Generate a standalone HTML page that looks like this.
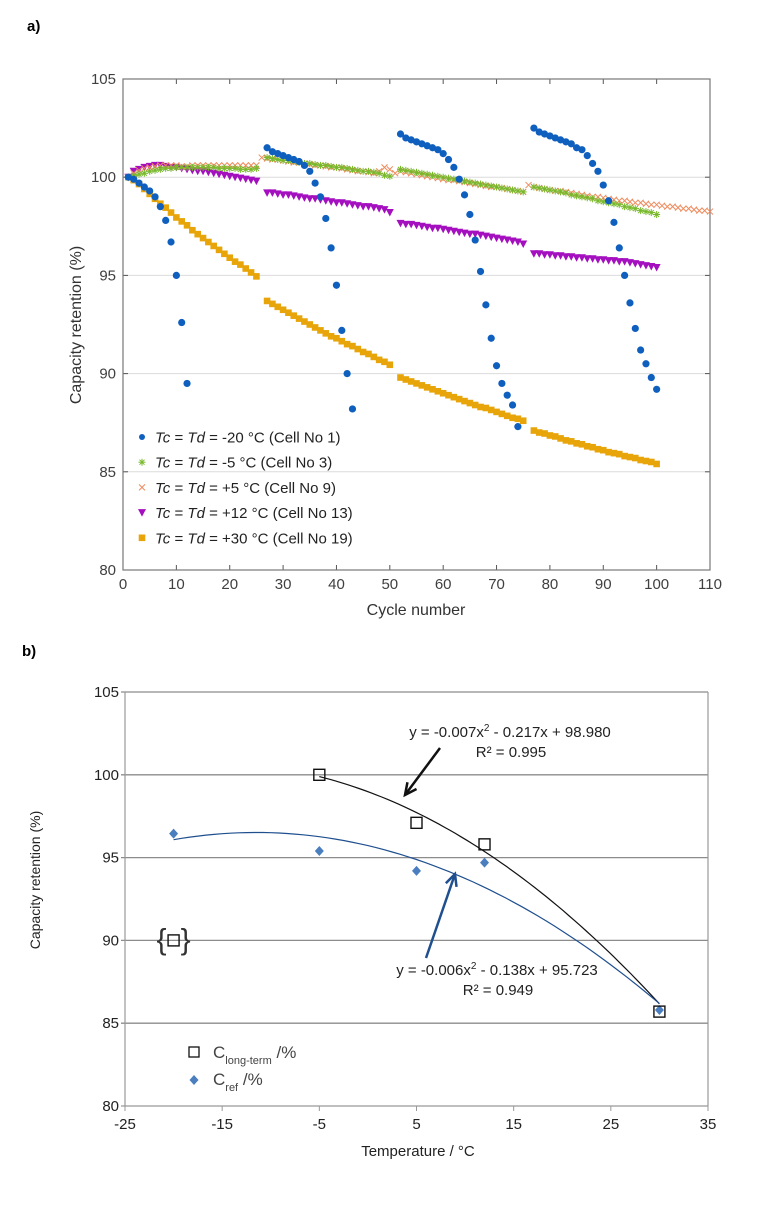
<!DOCTYPE html>
<html><head><meta charset="utf-8"><style>
html,body{margin:0;padding:0;background:#fff;}
body{width:759px;height:1200px;overflow:hidden;font-family:"Liberation Sans",sans-serif;}
svg text{font-family:"Liberation Sans",sans-serif;}
</style></head><body>
<svg id="root" width="759" height="1200" viewBox="0 0 759 1200" xmlns="http://www.w3.org/2000/svg">
<text x="27" y="31" font-size="15" font-weight="bold">a)</text>
<text x="22" y="656" font-size="15" font-weight="bold">b)</text>
<g id="chartA"></g>
<g id="chartB"></g>
</svg>
<script>
// ---------- Chart A data ----------
const aXTicks = [0,10,20,30,40,50,60,70,80,90,100,110];
const aYTicks = [80,85,90,95,100,105];
const blueStarts = [1,27,52,77];
const blueVals = [
 [100,99.9,99.7,99.5,99.3,99.0,98.5,97.8,96.7,95.0,92.6,89.5],
 [101.5,101.3,101.2,101.1,101.0,100.9,100.8,100.6,100.3,99.7,99.0,97.9,96.4,94.5,92.2,90.0,88.2],
 [102.2,102.0,101.9,101.8,101.7,101.6,101.5,101.4,101.2,100.9,100.5,99.9,99.1,98.1,96.8,95.2,93.5,91.8,90.4,89.5,88.9,88.4,87.3],
 [102.5,102.3,102.2,102.1,102.0,101.9,101.8,101.7,101.5,101.4,101.1,100.7,100.3,99.6,98.8,97.7,96.4,95.0,93.6,92.3,91.2,90.5,89.8,89.2]
];
const greenStarts = [1,27,52,77];
const greenVals = [
 [100,100.1,100.15,100.2,100.3,100.35,100.4,100.45,100.45,100.5,100.5,100.5,100.5,100.5,100.5,100.5,100.5,100.45,100.45,100.45,100.45,100.4,100.4,100.4,100.45],
 [101.0,100.95,100.9,100.85,100.85,100.8,100.75,100.7,100.7,100.65,100.6,100.6,100.55,100.5,100.5,100.45,100.4,100.35,100.3,100.3,100.25,100.2,100.1,100.05],
 [100.4,100.35,100.3,100.25,100.2,100.15,100.1,100.05,100.0,99.95,99.9,99.85,99.8,99.75,99.7,99.65,99.6,99.55,99.5,99.45,99.4,99.35,99.3,99.25],
 [99.5,99.45,99.4,99.35,99.3,99.25,99.2,99.1,99.05,99.0,98.95,98.9,98.8,98.75,98.7,98.65,98.6,98.5,98.45,98.4,98.3,98.25,98.2,98.1]
];
const orangeStarts = [1,26,51,76];
const orangeVals = [
 [100,100.2,100.35,100.45,100.5,100.55,100.6,100.6,100.6,100.6,100.55,100.55,100.6,100.6,100.6,100.6,100.6,100.6,100.6,100.6,100.6,100.6,100.6,100.6,100.6],
 [101.0,100.95,100.9,100.9,100.85,100.8,100.75,100.75,100.7,100.65,100.6,100.6,100.55,100.5,100.5,100.45,100.4,100.35,100.3,100.3,100.25,100.2,100.3,100.5,100.4],
 [100.2,100.3,100.25,100.2,100.15,100.1,100.05,100.0,99.95,99.9,99.85,99.85,99.8,99.75,99.7,99.65,99.6,99.55,99.5,99.5,99.45,99.4,99.35,99.3,99.25],
 [99.6,99.5,99.45,99.4,99.35,99.3,99.3,99.25,99.2,99.15,99.1,99.05,99.0,99.0,98.95,98.9,98.85,98.8,98.8,98.75,98.7,98.7,98.65,98.6,98.6,98.55,98.5,98.5,98.45,98.4,98.4,98.35,98.3,98.3,98.25]
];
const purpleStarts = [1,27,52,77];
const purpleVals = [
 [100,100.3,100.4,100.5,100.55,100.6,100.6,100.55,100.5,100.5,100.45,100.4,100.35,100.3,100.3,100.25,100.2,100.15,100.1,100.05,100.0,99.95,99.9,99.85,99.8],
 [99.2,99.2,99.15,99.1,99.1,99.05,99.0,98.95,98.9,98.9,98.85,98.8,98.75,98.7,98.7,98.65,98.6,98.55,98.5,98.5,98.45,98.4,98.35,98.2],
 [97.65,97.6,97.6,97.55,97.5,97.45,97.4,97.4,97.35,97.3,97.25,97.2,97.15,97.1,97.1,97.05,97.0,96.95,96.9,96.85,96.8,96.75,96.7,96.6],
 [96.1,96.1,96.05,96.05,96.0,96.0,95.95,95.95,95.9,95.9,95.85,95.85,95.8,95.8,95.75,95.75,95.7,95.7,95.65,95.6,95.55,95.5,95.45,95.4]
];
const yellowStarts = [1,27,52,77];
const yellowVals = [
 [100,99.85,99.65,99.4,99.15,98.9,98.65,98.45,98.2,97.95,97.75,97.55,97.3,97.1,96.9,96.7,96.5,96.3,96.1,95.9,95.7,95.55,95.35,95.15,94.95],
 [93.7,93.55,93.4,93.25,93.1,92.95,92.8,92.65,92.5,92.35,92.2,92.05,91.9,91.8,91.65,91.5,91.4,91.25,91.1,91.0,90.85,90.7,90.6,90.45],
 [89.8,89.7,89.6,89.5,89.4,89.3,89.2,89.1,89.0,88.9,88.8,88.7,88.6,88.5,88.4,88.3,88.25,88.15,88.05,87.95,87.85,87.75,87.7,87.6],
 [87.1,87.0,86.95,86.85,86.8,86.7,86.6,86.55,86.45,86.4,86.3,86.25,86.15,86.1,86.0,85.95,85.9,85.8,85.75,85.7,85.6,85.55,85.5,85.4]
];
const aLegend = ["-20 °C (Cell No 1)","-5 °C (Cell No 3)","+5 °C (Cell No 9)","+12 °C (Cell No 13)","+30 °C (Cell No 19)"];

// ---------- Chart B data ----------
const bXTicks = [-25,-15,-5,5,15,25,35];
const bYTicks = [80,85,90,95,100,105];
const longTemps = [-5,5,12,30];
const longVals = [100.0,97.1,95.8,85.7];
const outlierTemp = [-20];
const outlierVal = [90.0];
const refTemps = [-20,-5,5,12,30];
const refVals = [96.45,95.4,94.2,94.7,85.8];
const fitLong = [-0.007,-0.217,98.980];
const fitRef = [-0.006,-0.138,95.723];

const NS="http://www.w3.org/2000/svg";
function mk(parent,tag,attrs,text){const e=document.createElementNS(NS,tag);for(const k in attrs)e.setAttribute(k,attrs[k]);if(text!==undefined)e.textContent=text;parent.appendChild(e);return e;}

// ===== Chart A =====
const A=document.getElementById('chartA');
const ax0=123,ax1=710,ay0=570,ay1=79;
const axX=v=>ax0+(v-0)/110*(ax1-ax0);
const axY=v=>ay0-(v-80)/25*(ay0-ay1);
aYTicks.forEach(t=>{
  if(t>80&&t<105){const g=mk(A,'line',{x1:ax0,x2:ax1,y1:axY(t),y2:axY(t),stroke:'#dcdcdc','stroke-width':1});
  
  }
  const tx=mk(A,'text',{x:ax0-7,y:axY(t)+5,'font-size':15,'text-anchor':'end',fill:'#404040'},String(t));
  
  
  mk(A,'line',{x1:ax1-5,x2:ax1,y1:axY(t),y2:axY(t),stroke:'#555'});
  mk(A,'line',{x1:ax0,x2:ax0+5,y1:axY(t),y2:axY(t),stroke:'#555'});
});
aXTicks.forEach(t=>{
  const tx=mk(A,'text',{x:axX(t),y:ay0+19,'font-size':15,'text-anchor':'middle',fill:'#404040'},String(t));
  
  
  mk(A,'line',{x1:axX(t),x2:axX(t),y1:ay0,y2:ay0-5,stroke:'#555'});
  mk(A,'line',{x1:axX(t),x2:axX(t),y1:ay1,y2:ay1+5,stroke:'#555'});
});
const frame=mk(A,'rect',{x:ax0,y:ay1,width:ax1-ax0,height:ay0-ay1,fill:'none',stroke:'#777','stroke-width':1.2});


const xt=mk(A,'text',{x:416,y:615,'font-size':16,'text-anchor':'middle',fill:'#333'},'Cycle number');


const yt=mk(A,'text',{x:0,y:0,'font-size':16,'text-anchor':'middle',fill:'#333',transform:'translate(81,325) rotate(-90)'},'Capacity retention (%)');



function marker(g,type,x,y){
  if(type==='dot')return mk(g,'circle',{cx:x,cy:y,r:3.6,fill:'#0f5fbf'});
  if(type==='star'){const s=mk(g,'g',{stroke:'#77b82a','stroke-width':1});
    mk(s,'line',{x1:x-3.5,x2:x+3.5,y1:y,y2:y});mk(s,'line',{x1:x,x2:x,y1:y-3.5,y2:y+3.5});
    mk(s,'line',{x1:x-2.5,x2:x+2.5,y1:y-2.5,y2:y+2.5});mk(s,'line',{x1:x-2.5,x2:x+2.5,y1:y+2.5,y2:y-2.5});return s;}
  if(type==='x'){const s=mk(g,'g',{stroke:'#ef8a5c','stroke-width':1});
    mk(s,'line',{x1:x-3,x2:x+3,y1:y-3,y2:y+3});mk(s,'line',{x1:x-3,x2:x+3,y1:y+3,y2:y-3});return s;}
  if(type==='tri')return mk(g,'polygon',{points:`${x-4},${y-3.5} ${x+4},${y-3.5} ${x},${y+4}`,fill:'#a40fbf'});
  if(type==='sq')return mk(g,'rect',{x:x-3.3,y:y-3.3,width:6.6,height:6.6,fill:'#e8a50a'});
}
function series(name,type,starts,vals){
  const g=mk(A,'g',{});
  
  
  vals.forEach((seg,si)=>seg.forEach((v,i)=>{
    const m=marker(g,type,axX(starts[si]+i),axY(v));
    
    
  }));
}
series('series-plus30','sq',yellowStarts,yellowVals);
series('series-plus12','tri',purpleStarts,purpleVals);
series('series-plus5','x',orangeStarts,orangeVals);
series('series-minus5','star',greenStarts,greenVals);
series('series-minus20','dot',blueStarts,blueVals);

const legTypes=['dot','star','x','tri','sq'];
aLegend.forEach((lbl,i)=>{
  const y=437+i*25.2;
  const g=mk(A,'g',{});
  
  
  if(legTypes[i]==='dot')mk(g,'circle',{cx:142,cy:y,r:3,fill:'#0f5fbf'});else marker(g,legTypes[i],142,y);
  const t=mk(g,'text',{x:155,y:y+5.5,'font-size':15,fill:'#222'});
  mk(t,'tspan',{'font-style':'italic'},'Tc');
  mk(t,'tspan',{},' = ');
  mk(t,'tspan',{'font-style':'italic'},'Td');
  mk(t,'tspan',{},' = '+lbl);
});

// ===== Chart B =====
const B=document.getElementById('chartB');
const bx0=125,bx1=708,by0=1106,by1=692;
const bX=v=>bx0+(v+25)/60*(bx1-bx0);
const bY=v=>by0-(v-80)/25*(by0-by1);
bYTicks.forEach(t=>{
  const l=mk(B,'line',{x1:bx0-4,x2:bx1,y1:bY(t),y2:bY(t),stroke:t===80?'#999':'#8c8c8c','stroke-width':1.3});
  
  
  const tx=mk(B,'text',{x:bx0-6,y:bY(t)+5,'font-size':15,'text-anchor':'end',fill:'#222'},String(t));
  
  
});
mk(B,'line',{x1:bx0,x2:bx0,y1:by1,y2:by0,stroke:'#999','stroke-width':1.2});
mk(B,'line',{x1:bx1,x2:bx1,y1:by1,y2:by0,stroke:'#999','stroke-width':1.2});
bXTicks.forEach(t=>{
  mk(B,'line',{x1:bX(t),x2:bX(t),y1:by0,y2:by0+5,stroke:'#999'});
  const tx=mk(B,'text',{x:bX(t),y:by0+23,'font-size':15,'text-anchor':'middle',fill:'#222'},String(t));
  
  
});
const bxt=mk(B,'text',{x:418,y:1156,'font-size':15,'text-anchor':'middle',fill:'#222'},'Temperature / °C');


const byt=mk(B,'text',{x:0,y:0,'font-size':14,'text-anchor':'middle',fill:'#222',transform:'translate(40,880) rotate(-90)'},'Capacity retention  (%)');



function fitPath(c,t0,t1){let d='';for(let i=0;i<=60;i++){const t=t0+(t1-t0)*i/60;const v=c[0]*t*t+c[1]*t+c[2];d+=(i?'L':'M')+bX(t).toFixed(1)+','+bY(v).toFixed(1);}return d;}
const fl=mk(B,'path',{d:fitPath(fitLong,longTemps[0],longTemps[longTemps.length-1]),fill:'none',stroke:'#111','stroke-width':1.2});


const fr=mk(B,'path',{d:fitPath(fitRef,refTemps[0],refTemps[refTemps.length-1]),fill:'none',stroke:'#1f4f8f','stroke-width':1.2});



refTemps.forEach((t,i)=>{const x=bX(t),y=bY(refVals[i]);
  const p=mk(B,'polygon',{points:`${x},${y-5} ${x+4.5},${y} ${x},${y+5} ${x-4.5},${y}`,fill:'#4a7ebf'});
  
  });
longTemps.forEach((t,i)=>{const x=bX(t),y=bY(longVals[i]);
  const r=mk(B,'rect',{x:x-5.5,y:y-5.5,width:11,height:11,fill:'none',stroke:'#111','stroke-width':1.4});
  
  });
outlierTemp.forEach((t,i)=>{const x=bX(t),y=bY(outlierVal[i]);
  const r=mk(B,'rect',{x:x-5.5,y:y-5.5,width:11,height:11,fill:'none',stroke:'#111','stroke-width':1.4});
  
  
  const b1=mk(B,'text',{x:x-7,y:y+9,'font-size':30,'text-anchor':'end',fill:'#333'},'{');
  
  
  const b2=mk(B,'text',{x:x+7,y:y+9,'font-size':30,'text-anchor':'start',fill:'#333'},'}');
  
  });

// arrows
function arrow(x1,y1,x2,y2,col,name){const g=mk(B,'g',{});
  
  
  mk(g,'line',{x1,y1,x2,y2,stroke:col,'stroke-width':2.5});
  const a=Math.atan2(y2-y1,x2-x1),L=13;
  const p=(s)=>`${x2-L*Math.cos(a+s)},${y2-L*Math.sin(a+s)}`;
  mk(g,'polyline',{points:`${p(0.45)} ${x2},${y2} ${p(-0.45)}`,fill:'none',stroke:col,'stroke-width':2.5});}
arrow(440,748,405,795,'#111','long-term-arrow');
arrow(426,958,455,874,'#1f4f8f','ref-arrow');

function eq(x,y,txt,sq,rest,r2,name){const g=mk(B,'g',{});
  
  
  const t=mk(g,'text',{x,y,'font-size':15,'text-anchor':'middle',fill:'#222'});
  mk(t,'tspan',{},txt);mk(t,'tspan',{'font-size':10,dy:-6},sq);mk(t,'tspan',{dy:6},rest);
  mk(g,'text',{x:x+1,y:y+20,'font-size':15,'text-anchor':'middle',fill:'#222'},r2);}
eq(510,737,'y = -0.007x','2',' - 0.217x + 98.980','R² = 0.995','long-term-equation');
eq(497,975,'y = -0.006x','2',' - 0.138x + 95.723','R² = 0.949','ref-equation');

// legend b
const lg1=mk(B,'g',{});


mk(lg1,'rect',{x:189,y:1047,width:10,height:10,fill:'none',stroke:'#111','stroke-width':1.3});
const t1=mk(lg1,'text',{x:213,y:1058,'font-size':17,fill:'#444'});
mk(t1,'tspan',{},'C');mk(t1,'tspan',{'font-size':11,dy:6},'long-term');mk(t1,'tspan',{dy:-6},' /%');
const lg2=mk(B,'g',{});


mk(lg2,'polygon',{points:'194,1075 198.5,1080 194,1085 189.5,1080',fill:'#4a7ebf'});
const t2=mk(lg2,'text',{x:213,y:1085,'font-size':17,fill:'#444'});
mk(t2,'tspan',{},'C');mk(t2,'tspan',{'font-size':11,dy:6},'ref');mk(t2,'tspan',{dy:-6},' /%');
</script>
</body></html>
